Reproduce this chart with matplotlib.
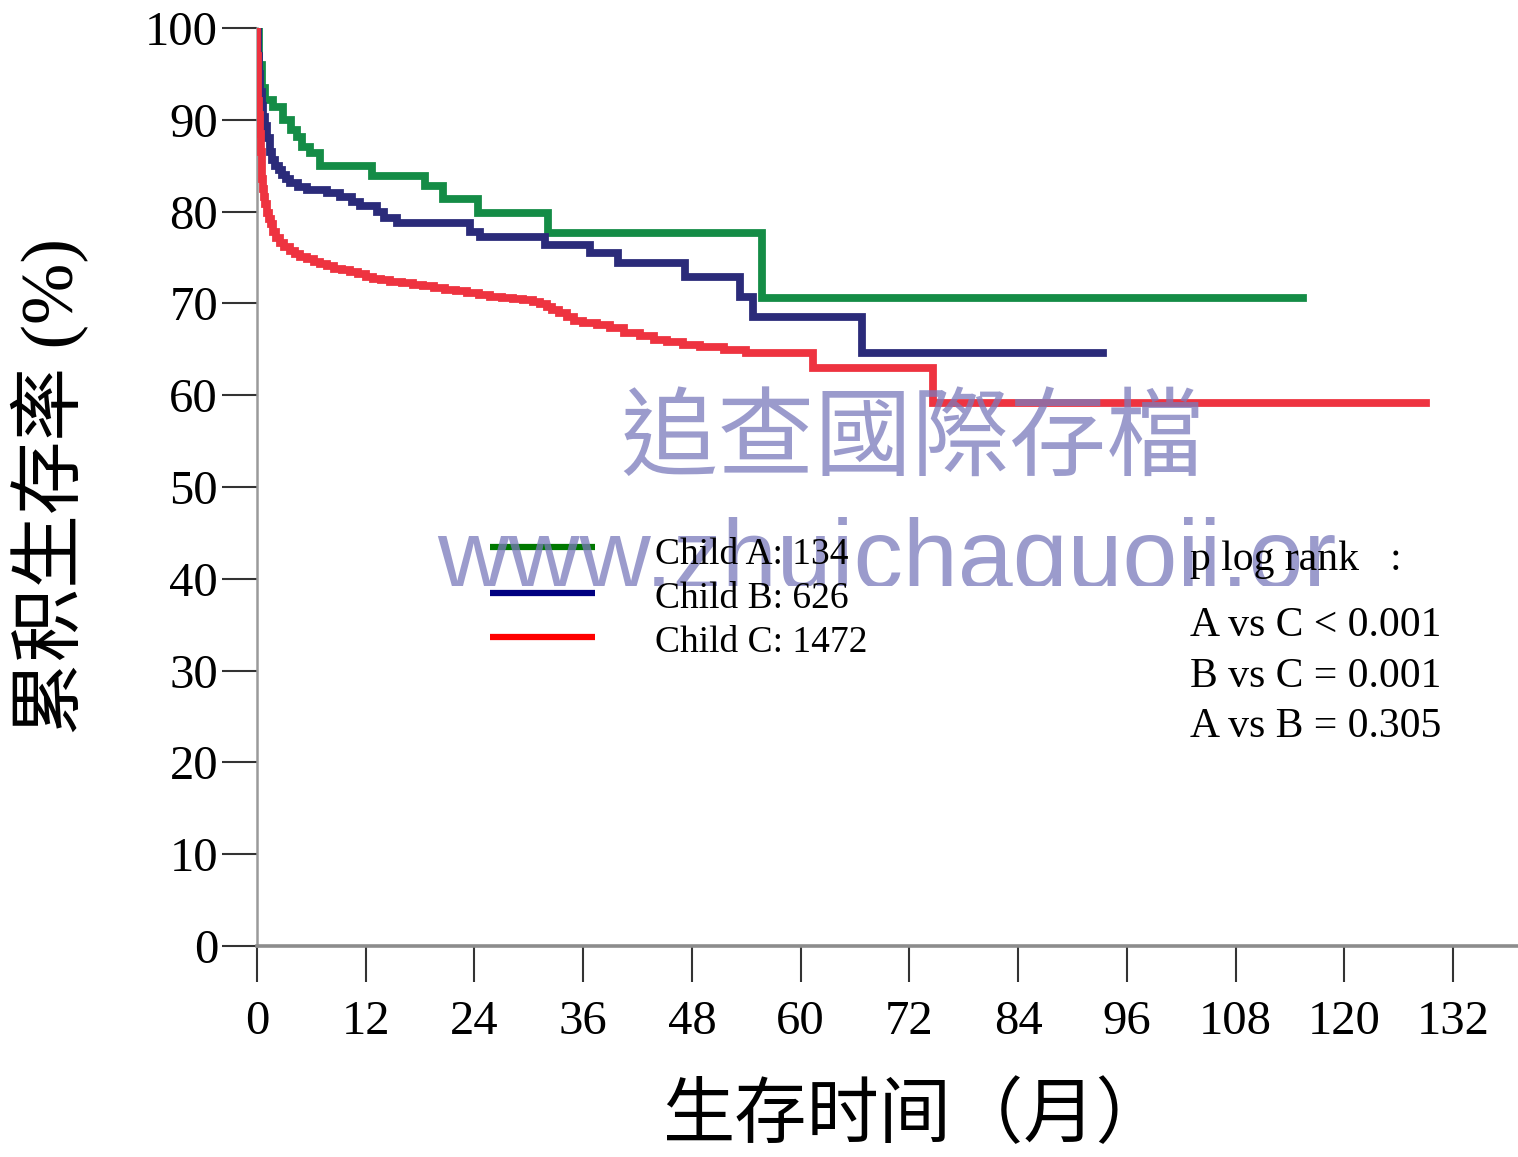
import matplotlib
matplotlib.use("Agg")
import matplotlib.pyplot as plt
from matplotlib.lines import Line2D
from matplotlib.patches import Rectangle

# ---------------- data ----------------
time_a = [0, 0.2, 0.5, 0.9, 1.8, 2.9, 3.7, 4.4, 5.0, 5.9, 7.0, 12.7, 18.5, 20.5, 24.4, 32.1, 55.7, 115.5]
surv_a = [100, 96, 93.5, 92.2, 91.4, 90.0, 88.9, 88.1, 87.0, 86.4, 85.0, 83.9, 82.8, 81.4, 79.9, 77.7, 70.6, 70.6]

time_b = [0, 0.1, 0.2, 0.35, 0.5, 0.7, 0.9, 1.1, 1.4, 1.7, 2.0, 2.4, 2.8, 3.2, 3.6, 4.5, 5.5, 7.7,
          9.2, 10.5, 11.4, 13.2, 14.0, 15.5, 23.5, 24.6, 31.8, 36.8, 39.8, 47.2, 53.3, 54.7, 66.8, 93.4]
surv_b = [100, 97, 95, 93, 91.5, 90.3, 89.3, 88.0, 86.5, 85.6, 85.0, 84.5, 84.0, 83.5, 83.1, 82.7, 82.4, 82.0,
          81.6, 81.1, 80.6, 80.0, 79.3, 78.8, 77.8, 77.2, 76.4, 75.5, 74.4, 72.9, 70.7, 68.5, 64.6, 64.6]

time_c = [0, 0.05, 0.1, 0.15, 0.2, 0.3, 0.4, 0.5, 0.6, 0.7, 0.8, 0.9, 1.1, 1.3, 1.5, 1.8, 2.1, 2.5,
          3.0, 3.6, 4.2, 4.8, 5.5, 6.3, 7.0, 7.7, 8.5, 9.4, 10.3, 11.2, 12.0, 12.8, 13.7, 14.7, 16.0,
          17.2, 18.3, 19.5, 20.8, 22.0, 23.2, 24.5, 25.7, 27.0, 28.2, 29.4, 30.5, 31.2, 32.0, 32.6,
          33.3, 34.2, 35.0, 36.0, 37.5, 39.0, 40.5, 42.3, 43.8, 45.3, 47.0, 48.9, 51.5, 54.0, 61.4,
          74.6, 129.0]
surv_c = [100, 97, 94, 92, 90.5, 88.5, 86.5, 84.8, 83.5, 82.5, 81.6, 80.8, 79.9, 79.2, 78.6, 77.8, 77.1, 76.6,
          76.1, 75.7, 75.4, 75.1, 74.8, 74.5, 74.3, 74.1, 73.8, 73.6, 73.4, 73.2, 72.9, 72.7, 72.5, 72.3, 72.2,
          72.0, 71.9, 71.7, 71.5, 71.3, 71.1, 70.9, 70.7, 70.6, 70.5, 70.4, 70.2, 69.9, 69.6, 69.3,
          69.0, 68.5, 68.1, 67.9, 67.6, 67.3, 66.8, 66.4, 66.0, 65.8, 65.5, 65.2, 64.9, 64.6, 63.0,
          59.2, 59.2]

group_labels = ["Child A: 134", "Child B: 626", "Child C: 1472"]
pvalue_lines = ["p log rank   :", "A vs C < 0.001", "B vs C = 0.001", "A vs B = 0.305"]
x_ticks = [0, 12, 24, 36, 48, 60, 72, 84, 96, 108, 120, 132]
y_ticks = [0, 10, 20, 30, 40, 50, 60, 70, 80, 90, 100]
x_label = "生存时间（月）"
y_label = "累积生存率 (%)"
watermark_cn = "追查國際存檔"
watermark_url = "www.zhuichaguoji.or"

# ---------------- figure ----------------
W, H = 1518, 1157
fig = plt.figure(figsize=(W / 100, H / 100), dpi=100)
fx = lambda x: x / W
fy = lambda y: 1 - y / H

ax = fig.add_axes([257 / W, (H - 946) / H, (W - 257) / W, 918 / H])
ax.set_xlim(0, (W - 257) / 9.0606)
ax.set_ylim(0, 100)

curve_colors = ["#148c46", "#2b2b7a", "#ee3340"]
legend_colors = ["#007800", "#000080", "#ff0000"]
for t, s, c in [(time_a, surv_a, curve_colors[0]), (time_b, surv_b, curve_colors[1]),
                (time_c, surv_c, curve_colors[2])]:
    ax.step(t, s, where="post", color=c, lw=5.6, solid_joinstyle="miter", zorder=3)

for sp in ["top", "right"]:
    ax.spines[sp].set_visible(False)
ax.spines["left"].set_color("#9a9a9a")
ax.spines["left"].set_linewidth(1.8)
ax.spines["bottom"].set_color("#8c8c8c")
ax.spines["bottom"].set_linewidth(2.6)

serif = ["Liberation Serif", "Noto Sans CJK SC"]
ax.set_xticks(x_ticks)
ax.set_yticks(y_ticks)
ax.set_xticklabels([str(v) for v in x_ticks], fontsize=35, family=serif)
ax.set_yticklabels([str(v) for v in y_ticks], fontsize=35, family=serif)
ax.tick_params(axis="x", direction="out", length=26, width=1.5, color="#333333", pad=13)
ax.tick_params(axis="y", direction="out", length=25, width=1.5, color="#333333", pad=3)

# axis labels
fig.text(fx(915), fy(1117), x_label, fontsize=52, family=["Noto Sans CJK SC"],
         ha="center", va="center")
fig.text(fx(50), fy(486), y_label, fontsize=53, family=serif, rotation=90,
         ha="center", va="center")

# watermark (above curves, below other text)
wm_color = "#7a7abc"
fig.text(fx(912), fy(440), watermark_cn, fontsize=70, family=["Noto Sans CJK TC"],
         color=wm_color, alpha=0.75, ha="center", va="center", zorder=2)
url = fig.text(fx(437), fy(588), watermark_url, fontsize=71, family=["Liberation Sans"],
               color=wm_color, alpha=0.75, ha="left", va="baseline", zorder=2)
url.set_clip_path(Rectangle((0, fy(586)), 1, 1, transform=fig.transFigure))

# legend
leg_y = [547, 593, 637]
leg_base = [564, 608, 652]
for i in range(3):
    fig.add_artist(Line2D([fx(490), fx(595)], [fy(leg_y[i])] * 2, transform=fig.transFigure,
                          color=legend_colors[i], lw=4.5, solid_capstyle="butt", zorder=1))
    fig.text(fx(655), fy(leg_base[i]), group_labels[i], fontsize=27, family=serif,
             ha="left", va="baseline", zorder=3)

# p-values
p_base = [570, 636, 687, 737]
for txt, b in zip(pvalue_lines, p_base):
    fig.text(fx(1190), fy(b), txt, fontsize=30, family=serif, ha="left", va="baseline", zorder=3)

fig.savefig("out.png", dpi=100)
